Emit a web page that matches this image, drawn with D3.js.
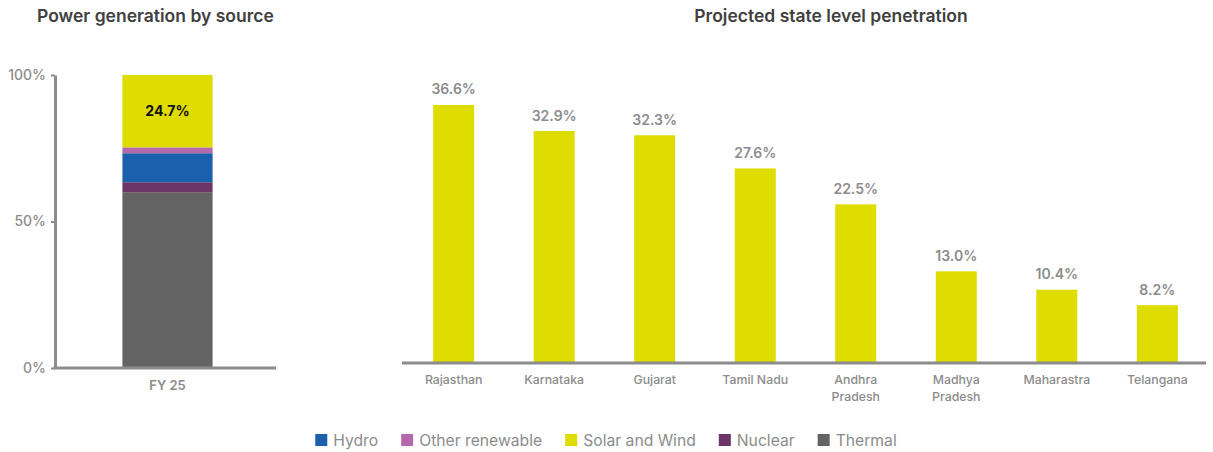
<!DOCTYPE html>
<html>
<head>
<meta charset="utf-8">
<script src="https://cdn.jsdelivr.net/npm/d3@7/dist/d3.min.js"></script>
<style>
  html, body { margin: 0; padding: 0; background: #ffffff; }
  svg { display: block; font-family: Inter, "Noto Sans", sans-serif; }
</style>
</head>
<body>
<svg id="chart" width="1213" height="452"></svg>
<script>
// Generation mix for FY 25 (share of total, %), stacked bottom to top
const mixSources = ["Thermal", "Nuclear", "Hydro", "Other renewable", "Solar and Wind"];
const mixValues  = [60.0, 3.4, 9.9, 2.0, 24.7];
const mixCategory = ["FY 25"];
const mixTicks = [0, 50, 100];

// Projected solar + wind penetration by state (%)
const states = ["Rajasthan", "Karnataka", "Gujarat", "Tamil Nadu", "Andhra Pradesh", "Madhya Pradesh", "Maharastra", "Telangana"];
const stateLabelLines = [["Rajasthan"], ["Karnataka"], ["Gujarat"], ["Tamil Nadu"], ["Andhra", "Pradesh"], ["Madhya", "Pradesh"], ["Maharastra"], ["Telangana"]];
const penetration = [36.6, 32.9, 32.3, 27.6, 22.5, 13.0, 10.4, 8.2];

// Legend order
const legendOrder = ["Hydro", "Other renewable", "Solar and Wind", "Nuclear", "Thermal"];

const colors = {
  "Thermal": "#636363",
  "Nuclear": "#6c3567",
  "Hydro": "#1a60ad",
  "Other renewable": "#b569ad",
  "Solar and Wind": "#dfdc00"
};
const axisGrey = "#8c8c8c";
const titleGrey = "#404040";

const svg = d3.select("#chart");

// ---------- Left panel: stacked generation mix ----------
const left = svg.append("g");

left.append("text")
  .attr("x", 37).attr("y", 22)
  .attr("fill", titleGrey)
  .attr("font-size", 17.5).attr("font-weight", 600)
  .text("Power generation by source");

const yMix = d3.scaleLinear().domain([0, 100]).range([368, 75]);
const xMix = d3.scaleBand().domain(mixCategory).range([58, 277]).paddingInner(0.4167).paddingOuter(0.4167);

// stacked segments
let acc = 0;
const segments = mixSources.map((s, i) => {
  const seg = { source: s, y0: acc, y1: acc + mixValues[i], value: mixValues[i] };
  acc += mixValues[i];
  return seg;
});

left.selectAll("rect.seg")
  .data(segments)
  .join("rect")
  .attr("class", "seg")
  .attr("x", xMix("FY 25"))
  .attr("width", xMix.bandwidth())
  .attr("y", d => yMix(d.y1))
  .attr("height", d => yMix(d.y0) - yMix(d.y1))
  .attr("fill", d => colors[d.source]);

// value label on the solar and wind segment
const sw = segments.find(d => d.source === "Solar and Wind");
left.append("text")
  .attr("x", xMix("FY 25") + xMix.bandwidth() / 2)
  .attr("y", yMix((sw.y0 + sw.y1) / 2) + 5)
  .attr("text-anchor", "middle")
  .attr("font-size", 14).attr("font-weight", 700)
  .attr("fill", "#111111")
  .text(sw.value.toFixed(1) + "%");

// y axis
const yAxisG = left.append("g")
  .attr("transform", "translate(55,0)")
  .call(d3.axisLeft(yMix).tickValues(mixTicks).tickFormat(d => d + "%").tickSize(4).tickSizeOuter(0));
yAxisG.select(".domain").attr("stroke", axisGrey).attr("stroke-width", 3);
yAxisG.selectAll(".tick line").attr("stroke", axisGrey).attr("stroke-width", 2);
yAxisG.selectAll(".tick text")
  .attr("x", -9)
  .attr("fill", axisGrey)
  .attr("font-size", 14).attr("font-weight", 500)
  .attr("font-family", "Inter, 'Noto Sans', sans-serif");

// x axis
const xMixAxisG = left.append("g")
  .attr("transform", `translate(0,${yMix(0)})`)
  .call(d3.axisBottom(xMix).tickSize(0).tickSizeOuter(0));
xMixAxisG.select(".domain").attr("d", `M53.5,0H276`).attr("stroke", axisGrey).attr("stroke-width", 3);
xMixAxisG.selectAll(".tick text")
  .attr("dy", "0.35em").attr("y", 17)
  .attr("fill", axisGrey)
  .attr("font-size", 13).attr("font-weight", 600)
  .attr("font-family", "Inter, 'Noto Sans', sans-serif");

// ---------- Right panel: state penetration ----------
const right = svg.append("g");

right.append("text")
  .attr("x", 831).attr("y", 22)
  .attr("text-anchor", "middle")
  .attr("fill", titleGrey)
  .attr("font-size", 17.5).attr("font-weight", 600)
  .text("Projected state level penetration");

const xState = d3.scaleBand().domain(states).range([403, 1208]).paddingInner(0.592).paddingOuter(0.3);
const yState = d3.scaleLinear().domain([0, 40]).range([363, 81]);

right.selectAll("rect.bar")
  .data(states)
  .join("rect")
  .attr("class", "bar")
  .attr("x", d => xState(d))
  .attr("width", xState.bandwidth())
  .attr("y", (d, i) => yState(penetration[i]))
  .attr("height", (d, i) => yState(0) - yState(penetration[i]))
  .attr("fill", colors["Solar and Wind"]);

right.selectAll("text.val")
  .data(states)
  .join("text")
  .attr("class", "val")
  .attr("x", d => xState(d) + xState.bandwidth() / 2)
  .attr("y", (d, i) => yState(penetration[i]) - 10.5)
  .attr("text-anchor", "middle")
  .attr("fill", axisGrey)
  .attr("font-size", 14).attr("font-weight", 600)
  .text((d, i) => penetration[i].toFixed(1) + "%");

const xStateAxisG = right.append("g")
  .attr("transform", `translate(0,${yState(0)})`)
  .call(d3.axisBottom(xState).tickSize(0).tickSizeOuter(0).tickFormat(""));
xStateAxisG.select(".domain").attr("d", "M402,0H1206").attr("stroke", axisGrey).attr("stroke-width", 3);
xStateAxisG.selectAll(".tick text").remove();
xStateAxisG.selectAll(".tick").each(function(d, i) {
  const t = d3.select(this).append("text")
    .attr("fill", axisGrey)
    .attr("text-anchor", "middle")
    .attr("font-size", 12.3).attr("font-weight", 500)
    .attr("font-family", "Inter, 'Noto Sans', sans-serif");
  stateLabelLines[i].forEach((line, j) => {
    t.append("tspan").attr("x", 0).attr("y", 21 + j * 17).text(line);
  });
});

// ---------- Legend ----------
const legend = svg.append("g");
const items = legend.selectAll("g.item")
  .data(legendOrder)
  .join("g")
  .attr("class", "item");
items.append("rect")
  .attr("width", 12).attr("height", 12)
  .attr("y", 434)
  .attr("fill", d => colors[d]);
items.append("text")
  .attr("x", 18).attr("y", 445.5)
  .attr("fill", axisGrey)
  .attr("font-size", 15.7).attr("font-weight", 400)
  .text(d => d);

let cursor = 0;
const offsets = [];
items.each(function() {
  offsets.push(cursor);
  const w = d3.select(this).select("text").node().getComputedTextLength();
  cursor += 18 + w + 23;
});
const totalW = cursor - 23;
const startX = 606 - totalW / 2;
items.attr("transform", (d, i) => `translate(${startX + offsets[i]},0)`);
</script>
</body>
</html>
